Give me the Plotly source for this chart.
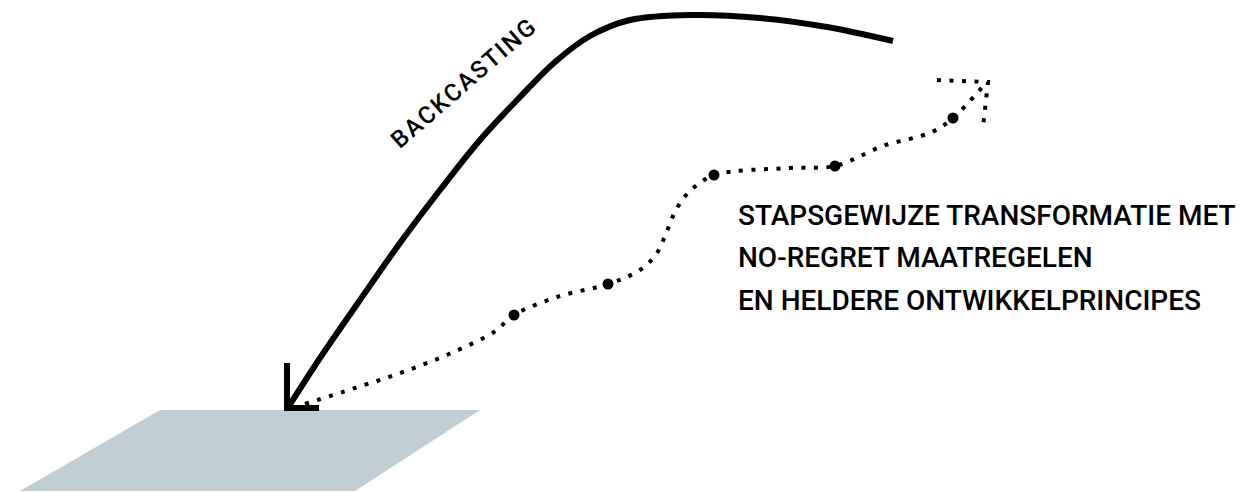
import plotly.graph_objects as go

W, H = 1246, 493

# Backcasting arrow (solid curve), pixel-space coordinates
back_x = [893, 827, 760, 693, 630, 590, 555, 520, 480, 440, 400, 360, 320, 289]
back_y = [41, 27, 18, 15, 20, 36, 62, 97, 140, 190, 243, 300, 358, 406]
head_x = [287, 287, 319]
head_y = [363, 408, 408]

# Stepwise path (dotted)
step_x = [305, 355, 403, 449, 494, 514, 557, 608, 640, 657, 667, 677, 692, 715,
          790, 835, 883, 932, 953, 985]
step_y = [404, 388, 372, 354, 332, 315, 297, 284, 270, 253, 231, 208, 189, 175,
          168, 166, 146, 132, 118, 84]
step_head_x = [937, 988, 983]
step_head_y = [80, 82, 128]

# Milestones (big dots)
mile_x = [514, 608, 714, 835, 953]
mile_y = [315, 284, 175, 166, 118]

# Ground plane
plane_x = [160, 480, 355, 20]
plane_y = [410, 410, 491, 491]

label_back = "BACKCASTING"
label_lines = ["STAPSGEWIJZE TRANSFORMATIE MET",
               "NO-REGRET MAATREGELEN",
               "EN HELDERE ONTWIKKELPRINCIPES"]
label_y = [215, 257, 300]

fig = go.Figure()
fig.add_trace(go.Scatter(x=plane_x, y=plane_y, fill="toself", mode="lines",
                         fillcolor="#c0cdd3", line=dict(width=0, color="#c0cdd3"),
                         hoverinfo="skip"))
fig.add_trace(go.Scatter(x=step_x, y=step_y, mode="lines", line_shape="spline",
                         line=dict(color="black", width=4, dash="4px,8.5px"),
                         hoverinfo="skip"))
fig.add_trace(go.Scatter(x=step_head_x, y=step_head_y, mode="lines",
                         line=dict(color="black", width=4, dash="4px,8.5px"),
                         hoverinfo="skip"))
fig.add_trace(go.Scatter(x=mile_x, y=mile_y, mode="markers",
                         marker=dict(color="black", size=11),
                         hoverinfo="skip"))
fig.add_trace(go.Scatter(x=back_x, y=back_y, mode="lines", line_shape="spline",
                         line=dict(color="black", width=6), hoverinfo="skip"))
fig.add_trace(go.Scatter(x=head_x, y=head_y, mode="lines",
                         line=dict(color="black", width=6), hoverinfo="skip"))

fig.add_annotation(x=464, y=83,
                   text='<span style="letter-spacing:2px">' + label_back + '</span>',
                   showarrow=False, textangle=-41,
                   font=dict(family="Roboto", size=24, color="black", weight=500),
                   xref="x", yref="y")
for t, yy in zip(label_lines, label_y):
    fig.add_annotation(x=736, y=yy, text=t, showarrow=False, xanchor="left",
                       yanchor="middle",
                       font=dict(family="Roboto", size=28, color="black", weight=500),
                       xref="x", yref="y")

fig.update_layout(width=W, height=H, margin=dict(l=0, r=0, t=0, b=0),
                  paper_bgcolor="white", plot_bgcolor="white", showlegend=False,
                  xaxis=dict(range=[0, W], visible=False, fixedrange=True),
                  yaxis=dict(range=[H, 0], visible=False, fixedrange=True))

fig.write_html("out.html", config={"displayModeBar": False},
               post_script="document.body.style.margin='0';document.body.style.overflow='hidden';")
